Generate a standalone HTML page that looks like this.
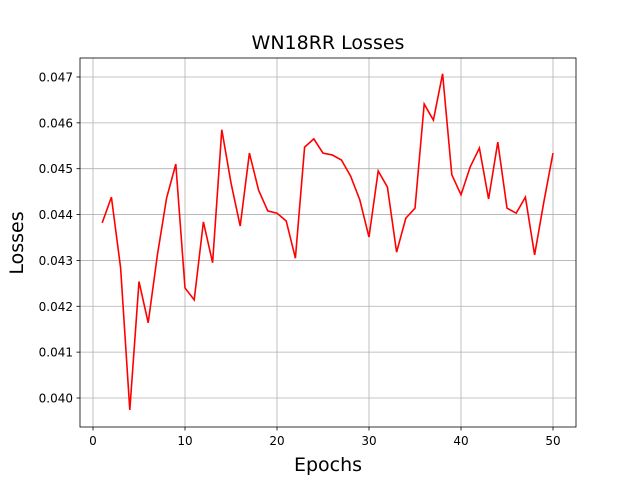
<!DOCTYPE html>
<html><head><meta charset="utf-8"><style>
body{margin:0;background:#fff}
svg text{font-family:"DejaVu Sans","Liberation Sans",sans-serif;fill:#000}
</style></head><body>
<svg id="chart" width="640" height="480" xmlns="http://www.w3.org/2000/svg">
<rect width="640" height="480" fill="#fff"/>
<g id="grid"></g>
<g id="xticks"></g>
<g id="yticks"></g>
<path id="line" fill="none" stroke="#ff0000" stroke-width="1.6"/>
<rect x="80" y="58" width="496" height="369" fill="none" stroke="#000" stroke-width="0.8"/>
<text x="328" y="49" font-size="19" text-anchor="middle">WN18RR Losses</text>
<text x="328" y="471" font-size="19" text-anchor="middle">Epochs</text>
<text x="23" y="243" font-size="19" text-anchor="middle" transform="rotate(-90 23 243)">Losses</text>
</svg>
<script>
const epochs = Array.from({length:50},(_,i)=>i+1);
const losses = [0.04382,0.04438,0.04284,0.03974,0.04254,0.04164,0.04312,0.04436,0.0451,0.0424,
0.04214,0.04384,0.04295,0.04585,0.04469,0.04375,0.04534,0.04453,0.04408,0.04403,
0.04386,0.04305,0.04547,0.04565,0.04534,0.0453,0.04519,0.04484,0.04432,0.04351,
0.04495,0.0446,0.04318,0.04392,0.04414,0.04641,0.04606,0.04707,0.04487,0.04443,
0.04504,0.04545,0.04434,0.04558,0.04414,0.04403,0.04438,0.04312,0.04427,0.04534];
const xTicks = [0,10,20,30,40,50];
const yTicks = [0.040,0.041,0.042,0.043,0.044,0.045,0.046,0.047];
const xs = v => 93 + (v-0)*9.2;
const ys = v => 398 - (v-0.040)*45860;
const NS="http://www.w3.org/2000/svg";
function mk(tag, attrs, parent){const e=document.createElementNS(NS,tag);for(const k in attrs)e.setAttribute(k,attrs[k]);parent.appendChild(e);return e;}
const grid=document.getElementById('grid'), gx=document.getElementById('xticks'), gy=document.getElementById('yticks');
xTicks.forEach(t=>{const x=xs(t);
 const g=mk('line',{x1:x,x2:x,y1:58,y2:427,stroke:'#b0b0b0','stroke-width':0.8},grid);
 
 
 mk('line',{x1:x,x2:x,y1:427,y2:430.5,stroke:'#000','stroke-width':0.8},gx);
 const tx=mk('text',{x:x,y:445,'font-size':12,'text-anchor':'middle'},gx);tx.textContent=t;
 
 
});
yTicks.forEach(t=>{const y=ys(t);
 const g=mk('line',{x1:80,x2:576,y1:y,y2:y,stroke:'#b0b0b0','stroke-width':0.8},grid);
 
 
 mk('line',{x1:76.5,x2:80,y1:y,y2:y,stroke:'#000','stroke-width':0.8},gy);
 const tx=mk('text',{x:73,y:y+4.5,'font-size':12,'text-anchor':'end'},gy);tx.textContent=t.toFixed(3);
 
 
});
document.getElementById('line').setAttribute('d', epochs.map((e,i)=>(i?'L':'M')+xs(e).toFixed(2)+','+ys(losses[i]).toFixed(2)).join(' '));
</script>
</body></html>
